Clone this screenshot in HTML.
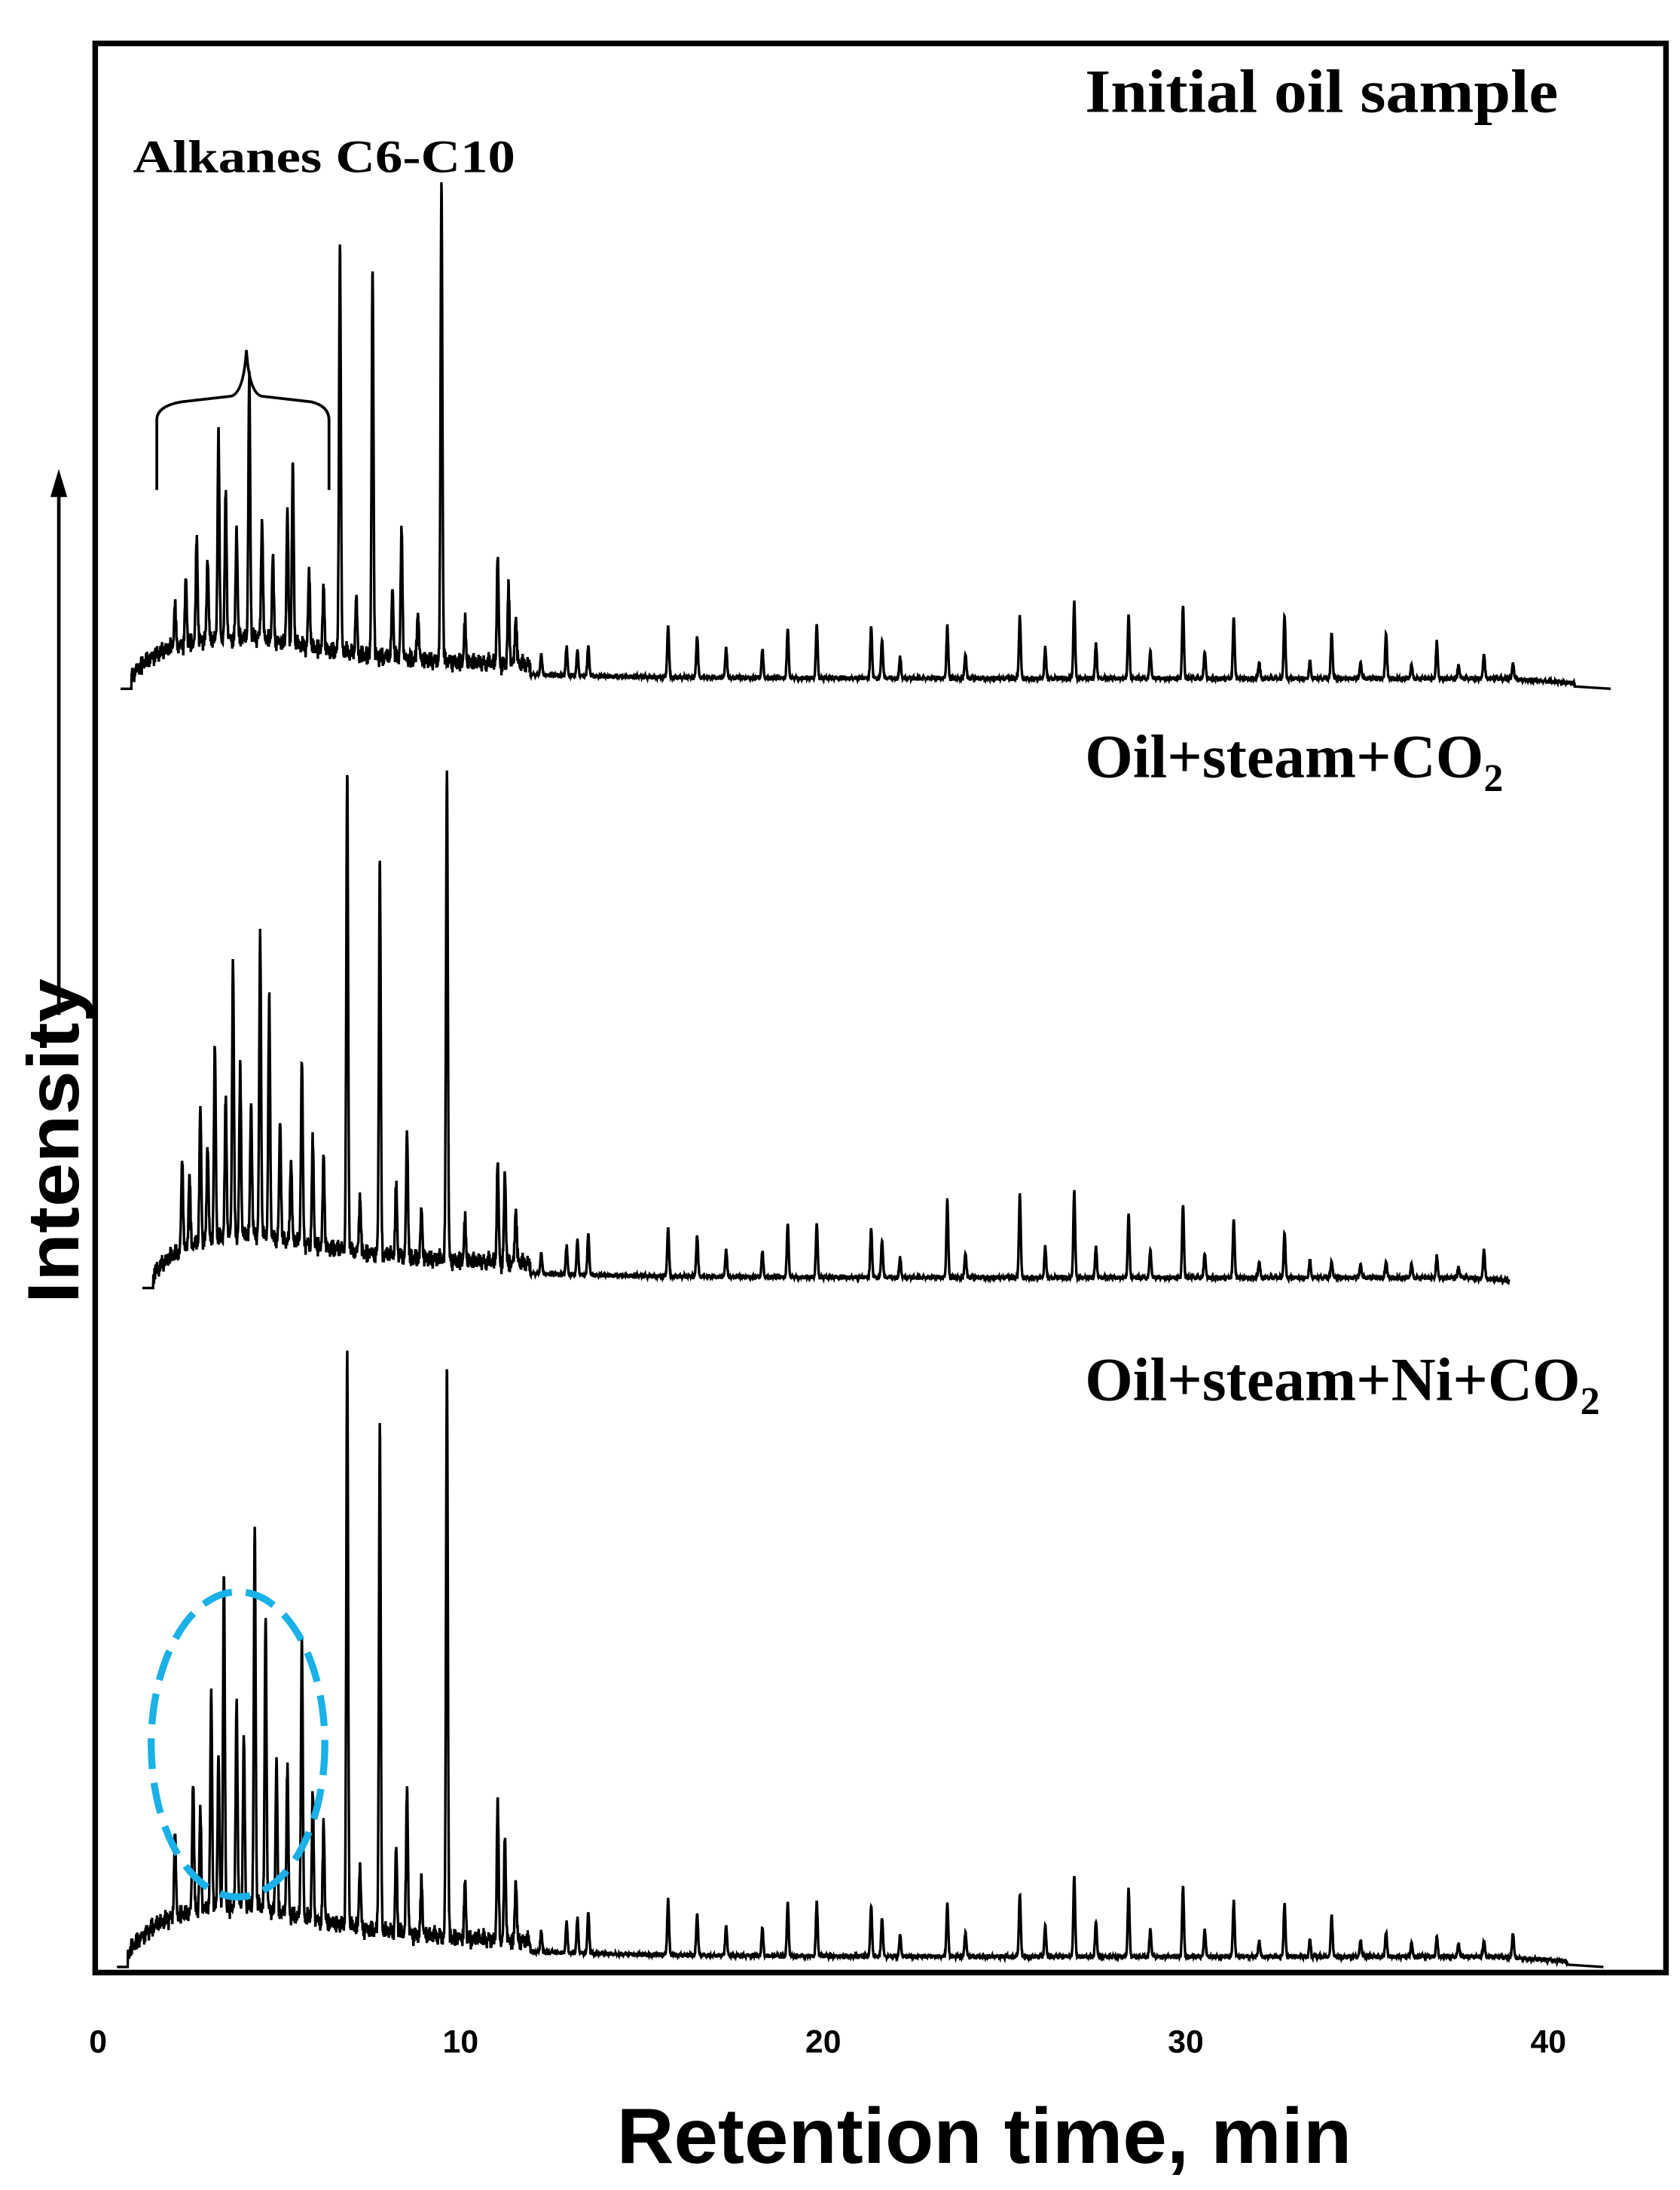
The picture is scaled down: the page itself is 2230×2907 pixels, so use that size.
<!DOCTYPE html>
<html><head><meta charset="utf-8"><style>
html,body{margin:0;padding:0;background:#fff;}
svg{display:block;}
</style></head><body>
<svg id="chart" width="2230" height="2907" viewBox="0 0 1200 1564.3" xmlns="http://www.w3.org/2000/svg">
<rect x="68" y="31" width="1122" height="1378" fill="none" stroke="#000" stroke-width="4"/>
<g id="traces"></g>
<text x="775" y="80" textLength="338" lengthAdjust="spacingAndGlyphs" font-family="Liberation Serif, serif" font-weight="bold" font-size="44">Initial oil sample</text>
<text x="95" y="123" textLength="273" lengthAdjust="spacingAndGlyphs" font-family="Liberation Serif, serif" font-weight="bold" font-size="33">Alkanes C6-C10</text>
<text x="775" y="555" font-family="Liberation Serif, serif" font-weight="bold" font-size="44">Oil+steam+CO<tspan font-size="28" dy="10">2</tspan></text>
<text x="775" y="1000" font-family="Liberation Serif, serif" font-weight="bold" font-size="44">Oil+steam+Ni+CO<tspan font-size="28" dy="10">2</tspan></text>
<path d="M112,350 L112,300 Q112,290 130,287 L165,283 Q174,281 176,250 Q178,281 187,283 L222,287 Q235,290 235,300 L235,350" fill="none" stroke="#000" stroke-width="2"/>
<ellipse cx="170" cy="1246" rx="62" ry="109" fill="none" stroke="#1ab0e8" stroke-width="5" stroke-dasharray="22,10"/>
<g>
<line x1="42" y1="725" x2="42" y2="352" stroke="#000" stroke-width="2.5"/>
<polygon points="42,335 36,355 48,355" fill="#000"/>
</g>
<text transform="translate(56,815) rotate(-90)" text-anchor="middle" textLength="232" lengthAdjust="spacingAndGlyphs" font-family="Liberation Sans, sans-serif" font-weight="bold" font-size="52">Intensity</text>
<g id="ticks" font-family="Liberation Sans, sans-serif" font-size="23" font-weight="bold" text-anchor="middle"></g>
<text x="703" y="1545" text-anchor="middle" textLength="525" lengthAdjust="spacingAndGlyphs" font-family="Liberation Sans, sans-serif" font-weight="bold" font-size="56">Retention time, min</text>
</svg>
<script>
const tickLabels=[0,10,20,30,40];
const late=[15.8,16.6,17.4,18.4,19.1,19.9,21.4,21.7,22.2,23.5,24.0,25.5,26.2,27.0,27.6,28.5,29.1,30.0,30.6,31.4,32.1,32.8,33.5,34.1,34.9,35.6,36.3,37.0,37.6,38.3,39.1];
// trace 1 : initial oil
const t1Times=[2.2,2.5,2.8,3.1,3.4,3.6,3.9,4.25,4.6,4.9,5.3,5.45,5.9,6.3,6.75,7.2,7.65,8.2,8.45,8.9,9.55,10.2,11.1,11.4,11.6,12.3,13.0,13.3,13.6].concat(late);
const t1Heights=[30,45,75,60,150,105,80,188,85,60,95,128,55,45,294,40,277,50,92,35,344,30,77,55,35,15,20,18,22,
 37,30,22,20,35,38,37,28,15,37,18,45,22,55,25,45,20,52,20,44,12,45,12,33,12,33,10,26,10,18,12,22];
// trace 2 : oil + steam + CO2
const t2Times=[2.4,2.6,2.9,3.1,3.3,3.6,3.8,4.0,4.3,4.55,4.8,5.1,5.4,5.7,6.0,6.3,6.95,7.3,7.85,8.3,8.6,9.0,9.7,10.2,11.1,11.3,11.6,12.3,13.0,13.3,13.6].concat(late);
const t2Heights=[65,50,95,70,138,100,198,120,95,215,170,85,60,132,75,65,342,40,282,50,90,35,352,30,72,65,40,15,20,25,30,
 35,30,20,18,38,38,35,27,14,55,18,60,22,62,22,45,20,52,18,42,12,32,12,12,10,12,10,15,8,22];
// trace 3 : oil + steam + Ni + CO2
const t3Times=[2.2,2.7,2.9,3.2,3.4,3.55,3.9,4.1,4.4,4.7,5.0,5.3,5.7,6.0,6.3,6.95,7.3,7.85,8.3,8.6,9.0,9.7,10.2,11.1,11.3,11.6,12.3,13.0,13.3,13.6].concat(late);
const t3Heights=[60,95,70,155,110,240,150,120,270,210,110,105,200,90,70,410,45,360,60,105,40,410,40,100,75,45,15,22,25,30,
 40,30,22,20,38,38,36,28,15,38,18,45,22,58,25,48,20,50,20,40,12,38,12,30,12,18,10,14,10,12,18];

const X0=68, PX=25.9;
function xs(t){return X0+t*PX;}
function hump(t,start,end,peak){
  if(t<start||t>end) return 0;
  const rise=1-Math.exp(-(t-start)/0.9);
  const fall=5+(peak-5)*Math.exp(-Math.max(0,t-4.5)/3.5);
  let tail=1; if(t>end-3) tail=(end-t)/3;
  return rise*fall*tail;
}
function grass(t){return 4*Math.abs(Math.sin(t*137.1))*Math.abs(Math.sin(t*23.3))+3*Math.abs(Math.sin(t*271.7))+2*Math.abs(Math.sin(t*93.1));}
function trace(times,heights,base,start,end,peak,name){
  let d='';
  for(let t=start-0.3;t<=end;t+=0.008){
    let y=base-hump(t,start,end,peak);
    if(t>start && t<end-1) y-=grass(t)*(t<12?2.0:0.5);
    for(let i=0;i<times.length;i++){
      const dt=(t-times[i])/0.025; if(Math.abs(dt)<4) y-=heights[i]*Math.exp(-dt*dt/2);
    }
    d+=(d?'L':'M')+xs(t).toFixed(2)+','+y.toFixed(2);
  }
  const p=document.createElementNS('http://www.w3.org/2000/svg','path');
  p.setAttribute('d',d);p.setAttribute('fill','none');p.setAttribute('stroke','#000');p.setAttribute('stroke-width','1.8');
  
  
  document.getElementById('traces').appendChild(p);
}
trace(t1Times,t1Heights,492,1.0,41.8,28,'trace-initial-oil');
trace(t2Times,t2Heights,920,1.6,40.8,30,'trace-oil-steam-co2');
trace(t3Times,t3Heights,1405,0.9,41.6,35,'trace-oil-steam-ni-co2');
const tg=document.getElementById('ticks');
tickLabels.forEach(v=>{
  const t=document.createElementNS('http://www.w3.org/2000/svg','text');
  t.setAttribute('x',(70+v*25.9).toFixed(1));t.setAttribute('y',1466);t.textContent=v;
  
  
  tg.appendChild(t);
});
</script>
</body></html>
